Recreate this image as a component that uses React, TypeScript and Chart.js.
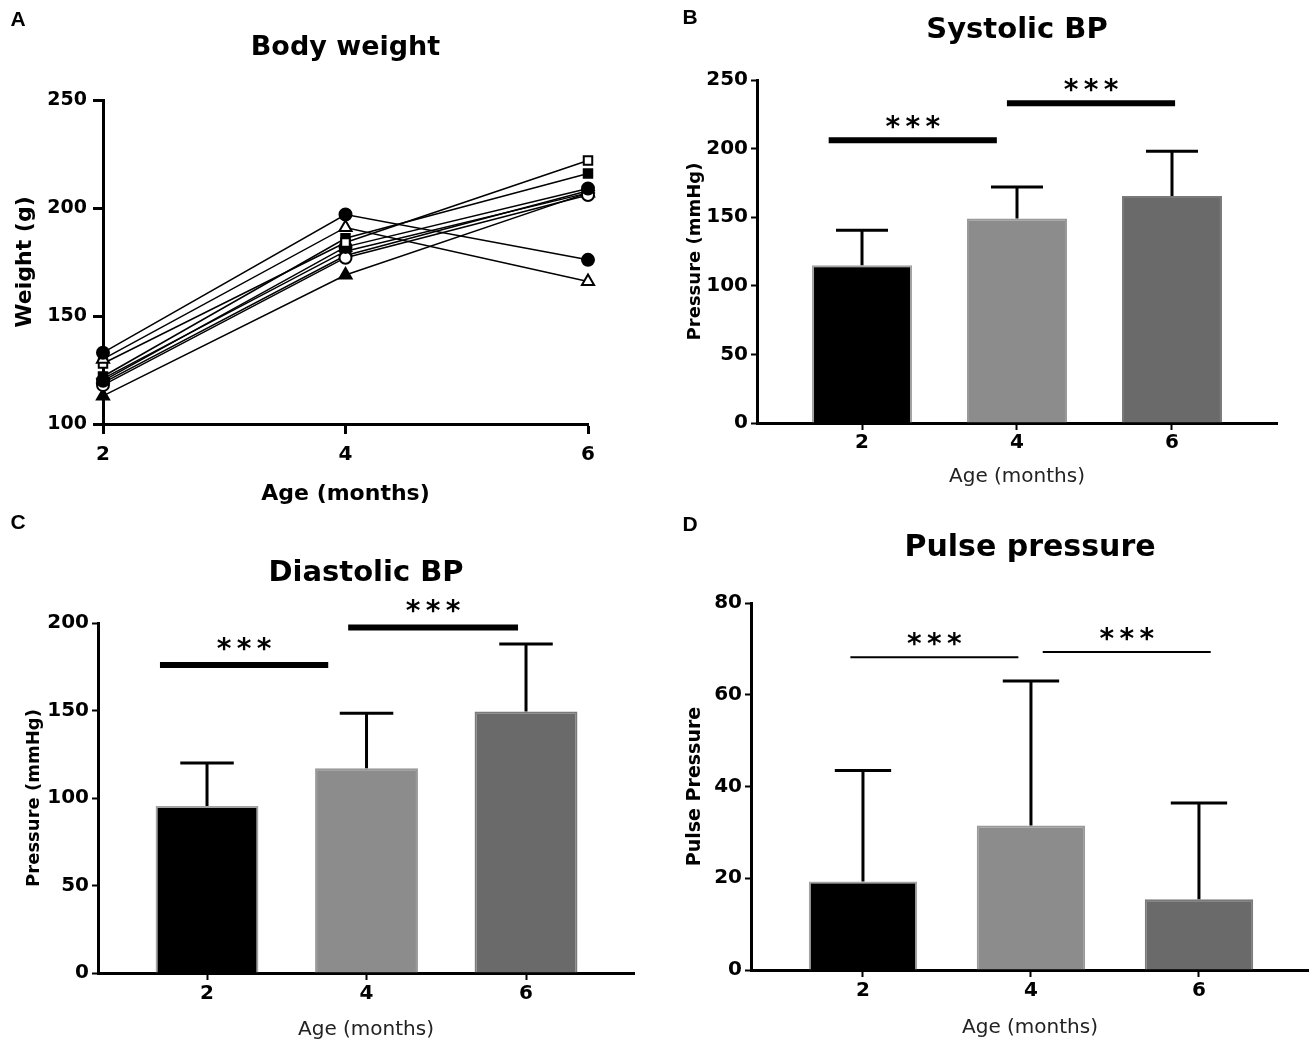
import React, { useEffect, useRef } from "react";
import { Chart, registerables } from "chart.js";

Chart.register(...registerables);

const FONT = "'DejaVu Sans', 'Liberation Sans', Arial, sans-serif";
const LETTER_FONT = "'Liberation Sans', Arial, sans-serif";

// ---------------- Data ----------------
const ageMonths = [2, 4, 6];
const ageTicks = [2, 4, 6];

// Panel A: body weight (g) of individual animals at 2, 4, 6 months
const bwAnimal1 = [133, 197, 176];
const bwAnimal2 = [130, 191, 166];
const bwAnimal3 = [128, 184, 222];
const bwAnimal4 = [122, 186, 216];
const bwAnimal5 = [120, 182, 209];
const bwAnimal6 = [118, 177, 206];
const bwAnimal7 = [121, 180, 207];
const bwAnimal8 = [113, 169, 207];
const bwAnimal9 = [119, 178, 208];
const weightRange = [100, 250];
const weightStep = 50;

// Panel B: systolic BP (mmHg), mean and SD
const systolicMean = [115, 149, 165.5];
const systolicSD = [25.5, 23, 32.5];
const systolicRange = [0, 250];
const systolicStep = 50;
// significance brackets: [from x, to x, level (mmHg)]
const systolicSig = [
  [1.57, 3.74, 206],
  [3.87, 6.04, 233],
];

// Panel C: diastolic BP (mmHg)
const diastolicMean = [95.5, 117, 149.5];
const diastolicSD = [24.5, 31.5, 38.5];
const diastolicRange = [0, 200];
const diastolicStep = 50;
const diastolicSig = [
  [1.41, 3.52, 176],
  [3.77, 5.9, 197.5],
];

// Panel D: pulse pressure
const pulseMean = [19.3, 31.5, 15.4];
const pulseSD = [24.2, 31.5, 21];
const pulseRange = [0, 80];
const pulseStep = 20;
const pulseSig = [
  [1.85, 3.85, 68.2],
  [4.14, 6.14, 69.3],
];

const sigLabel = "*";
const barColors = ["#000000", "#8c8c8c", "#6a6a6a"];
const barBorders = ["#a3a3a3", "#999999", "#7a7a7a"];

// ---------------- Layout helpers ----------------
type Box = { x: number; y: number; w: number; h: number };
type Plot = { l: number; t: number; r: number; b: number };

const font = (size: number, bold = true) => ({
  family: FONT,
  size,
  weight: bold ? ("bold" as const) : ("normal" as const),
  lineHeight: 1.2,
});

function titleOpts(text: string, size: number, centerY: number, box: Box, plot: Plot) {
  const lh = size * 1.2;
  const top = centerY - box.y - lh / 2;
  const bottom = plot.t - box.y - lh - top;
  return {
    display: true,
    text,
    fullSize: false,
    color: "#000",
    font: font(size, true),
    padding: { top, bottom },
  };
}

function letterPlugin(letter: string, x: number, y: number) {
  return {
    id: "panelLetter" + letter,
    afterDraw(chart: any) {
      const ctx = chart.ctx;
      ctx.save();
      ctx.fillStyle = "#000";
      ctx.font = `bold 21px ${LETTER_FONT}`;
      ctx.textAlign = "center";
      ctx.textBaseline = "middle";
      ctx.fillText(letter, x, y);
      ctx.restore();
    },
  };
}

function barExtrasPlugin(
  means: number[],
  sds: number[],
  sig: number[][],
  sigWidth: number,
  starOffset: number
) {
  return {
    id: "barExtras",
    afterDatasetsDraw(chart: any) {
      const ctx = chart.ctx;
      const xs = chart.scales.x;
      const ys = chart.scales.y;
      const meta = chart.getDatasetMeta(0);
      ctx.save();
      ctx.strokeStyle = "#000";
      ctx.lineWidth = 3;
      ctx.lineCap = "butt";
      meta.data.forEach((el: any, i: number) => {
        const x = el.x;
        const base = ys.getPixelForValue(means[i]);
        const top = ys.getPixelForValue(means[i] + sds[i]);
        const hw = el.width * 0.26;
        ctx.beginPath();
        ctx.moveTo(x, base);
        ctx.lineTo(x, top);
        ctx.moveTo(x - hw, top);
        ctx.lineTo(x + hw, top);
        ctx.stroke();
      });
      ctx.lineWidth = sigWidth;
      ctx.fillStyle = "#000";
      ctx.font = `bold 28px ${FONT}`;
      ctx.textAlign = "center";
      ctx.textBaseline = "alphabetic";
      const m = ctx.measureText(sigLabel);
      const half = (m.actualBoundingBoxAscent - m.actualBoundingBoxDescent) / 2;
      sig.forEach(([a, b, v]) => {
        const x1 = xs.getPixelForValue(a);
        const x2 = xs.getPixelForValue(b);
        const y = ys.getPixelForValue(v);
        ctx.beginPath();
        ctx.moveTo(x1, y);
        ctx.lineTo(x2, y);
        ctx.stroke();
        const cx = (x1 + x2) / 2;
        const cy = y - starOffset;
        for (let k = -1; k <= 1; k++) {
          ctx.fillText(sigLabel, cx + k * 20, cy + half);
        }
      });
      ctx.restore();
    },
  };
}

type BarSpec = {
  box: Box;
  plot: Plot;
  letter: string;
  letterPos: [number, number];
  title: string;
  titleSize: number;
  titleY: number;
  yTitle: string;
  yTitleSize: number;
  yTitleX: number;
  range: number[];
  step: number;
  xRange: number[];
  tickSize: number;
  xTickPad: number;
  xTitleY: number;
  means: number[];
  sds: number[];
  sig: number[][];
  sigWidth: number;
  starOffset: number;
};

function makeBarChart(canvas: HTMLCanvasElement, s: BarSpec) {
  const yTitleLH = s.yTitleSize * 1.2;
  const xTitleSize = 20;
  const xTitleLH = xTitleSize * 1.2;
  return new Chart(canvas, {
    type: "bar",
    data: {
      datasets: [
        {
          data: ageMonths.map((m, i) => ({ x: m, y: s.means[i] })) as any,
          backgroundColor: barColors,
          borderColor: barBorders,
          borderWidth: 2,
          barPercentage: 0.645,
          categoryPercentage: 1,
        },
      ],
    },
    options: {
      responsive: false,
      animation: false,
      events: [],
      layout: { padding: { left: 0, top: 0, bottom: 0, right: s.box.x + s.box.w - s.plot.r } },
      plugins: {
        legend: { display: false },
        tooltip: { enabled: false },
        title: titleOpts(s.title, s.titleSize, s.titleY, s.box, s.plot) as any,
      },
      scales: {
        x: {
          type: "linear",
          min: s.xRange[0],
          max: s.xRange[1],
          offset: false,
          afterBuildTicks: (sc: any) => {
            sc.ticks = ageTicks.map((v) => ({ value: v }));
          },
          afterFit: (sc: any) => {
            sc.height = s.box.y + s.box.h - s.plot.b;
          },
          ticks: { color: "#000", font: font(s.tickSize), padding: s.xTickPad, maxRotation: 0, autoSkip: false },
          grid: {
            display: true,
            offset: false,
            drawOnChartArea: false,
            drawTicks: true,
            tickLength: 7,
            tickWidth: 2,
            tickColor: "#000",
          },
          border: { display: true, color: "#000", width: 3 },
          title: {
            display: true,
            text: "Age (months)",
            color: "#222",
            font: font(xTitleSize, false),
            padding: { top: 0, bottom: s.box.y + s.box.h - s.xTitleY - xTitleLH / 2 },
          },
        },
        y: {
          type: "linear",
          min: s.range[0],
          max: s.range[1],
          ticks: { stepSize: s.step, color: "#000", font: font(s.tickSize), padding: 3 },
          afterFit: (sc: any) => {
            sc.width = s.plot.l - s.box.x;
          },
          grid: { display: true, drawOnChartArea: false, drawTicks: true, tickLength: 6, tickWidth: 2, tickColor: "#000" },
          border: { display: true, color: "#000", width: 3 },
          title: {
            display: true,
            text: s.yTitle,
            color: "#000",
            font: font(s.yTitleSize, true),
            padding: { top: s.yTitleX - s.box.x - yTitleLH / 2, bottom: 0 },
          },
        },
      },
    },
    plugins: [
      barExtrasPlugin(s.means, s.sds, s.sig, s.sigWidth, s.starOffset),
      letterPlugin(s.letter, s.letterPos[0], s.letterPos[1]),
    ],
  } as any);
}

const boxA: Box = { x: 0, y: 0, w: 655, h: 505 };
const plotA: Plot = { l: 103, t: 100, r: 588, b: 424 };

const weightSeries = [
  { data: bwAnimal1, style: "circle", open: false },
  { data: bwAnimal2, style: "triangle", open: true },
  { data: bwAnimal3, style: "rect", open: true },
  { data: bwAnimal4, style: "rect", open: false },
  { data: bwAnimal5, style: "circle", open: false },
  { data: bwAnimal6, style: "circle", open: true },
  { data: bwAnimal7, style: "rectRot", open: false },
  { data: bwAnimal8, style: "triangle", open: false },
  { data: bwAnimal9, style: "rectRot", open: true },
];

function makeLineChart(canvas: HTMLCanvasElement) {
  const box = boxA;
  const plot = plotA;
  const yTitleSize = 22;
  const xTitleSize = 22;
  return new Chart(canvas, {
    type: "line",
    data: {
      datasets: weightSeries.map((s) => ({
        data: ageMonths.map((m, i) => ({ x: m, y: s.data[i] })),
        borderColor: "#000",
        borderWidth: 1.5,
        pointStyle: s.style,
        pointRadius: s.style === "triangle" ? 7 : 6,
        pointBackgroundColor: s.open ? "#fff" : "#000",
        pointBorderColor: "#000",
        pointBorderWidth: 2,
        fill: false,
        tension: 0,
        clip: false,
      })),
    },
    options: {
      responsive: false,
      animation: false,
      events: [],
      layout: { padding: { left: 0, top: 0, bottom: 0, right: box.x + box.w - plot.r } },
      plugins: {
        legend: { display: false },
        tooltip: { enabled: false },
        title: titleOpts("Body weight", 27, 48, box, plot) as any,
      },
      scales: {
        x: {
          type: "linear",
          min: ageTicks[0],
          max: ageTicks[ageTicks.length - 1],
          offset: false,
          afterBuildTicks: (sc: any) => {
            sc.ticks = ageTicks.map((v) => ({ value: v }));
          },
          afterFit: (sc: any) => {
            sc.height = box.y + box.h - plot.b;
          },
          ticks: { color: "#000", font: font(20), padding: 9, maxRotation: 0, autoSkip: false },
          grid: {
            display: true,
            offset: false,
            drawOnChartArea: false,
            drawTicks: true,
            tickLength: 10,
            tickWidth: 3,
            tickColor: "#000",
          },
          border: { display: true, color: "#000", width: 3 },
          title: {
            display: true,
            text: "Age (months)",
            color: "#000",
            font: font(xTitleSize, true),
            padding: { top: 0, bottom: box.y + box.h - 494 - (xTitleSize * 1.2) / 2 },
          },
        },
        y: {
          type: "linear",
          min: weightRange[0],
          max: weightRange[1],
          ticks: { stepSize: weightStep, color: "#000", font: font(19), padding: 6 },
          afterFit: (sc: any) => {
            sc.width = plot.l - box.x;
          },
          grid: { display: true, drawOnChartArea: false, drawTicks: true, tickLength: 10, tickWidth: 3, tickColor: "#000" },
          border: { display: true, color: "#000", width: 3 },
          title: {
            display: true,
            text: "Weight (g)",
            color: "#000",
            font: font(yTitleSize, true),
            padding: { top: 25 - (yTitleSize * 1.2) / 2, bottom: 0 },
          },
        },
      },
    },
    plugins: [letterPlugin("A", 18, 20)],
  } as any);
}

const specB: BarSpec = {
  box: { x: 655, y: 0, w: 654, h: 505 },
  plot: { l: 757, t: 80, r: 1277, b: 423 },
  letter: "B",
  letterPos: [35, 18],
  title: "Systolic BP",
  titleSize: 29,
  titleY: 30,
  yTitle: "Pressure (mmHg)",
  yTitleSize: 18,
  yTitleX: 695,
  range: systolicRange,
  step: systolicStep,
  xRange: [0.645, 7.355],
  tickSize: 20,
  xTickPad: 1,
  xTitleY: 477,
  means: systolicMean,
  sds: systolicSD,
  sig: systolicSig,
  sigWidth: 6,
  starOffset: 18,
};

const specC: BarSpec = {
  box: { x: 0, y: 505, w: 655, h: 542 },
  plot: { l: 98, t: 623, r: 634, b: 973 },
  letter: "C",
  letterPos: [18, 18],
  title: "Diastolic BP",
  titleSize: 29,
  titleY: 573,
  yTitle: "Pressure (mmHg)",
  yTitleSize: 18,
  yTitleX: 34,
  range: diastolicRange,
  step: diastolicStep,
  xRange: [0.633, 7.354],
  tickSize: 20,
  xTickPad: 2,
  xTitleY: 1030,
  means: diastolicMean,
  sds: diastolicSD,
  sig: diastolicSig,
  sigWidth: 6,
  starOffset: 21,
};

const specD: BarSpec = {
  box: { x: 655, y: 505, w: 654, h: 542 },
  plot: { l: 751, t: 603, r: 1309, b: 970 },
  letter: "D",
  letterPos: [35, 20],
  title: "Pulse pressure",
  titleSize: 30,
  titleY: 548,
  yTitle: "Pulse Pressure",
  yTitleSize: 19,
  yTitleX: 695,
  range: pulseRange,
  step: pulseStep,
  xRange: [0.667, 7.31],
  tickSize: 20,
  xTickPad: 2,
  xTitleY: 1028,
  means: pulseMean,
  sds: pulseSD,
  sig: pulseSig,
  sigWidth: 2,
  starOffset: 18,
};

function Panel({ box, make }: { box: Box; make: (c: HTMLCanvasElement) => Chart }) {
  const ref = useRef<HTMLCanvasElement>(null);
  useEffect(() => {
    if (!ref.current) return;
    const chart = make(ref.current);
    return () => chart.destroy();
  }, []);
  return (
    <canvas
      ref={ref}
      width={box.w}
      height={box.h}
      style={{ position: "absolute", left: box.x, top: box.y, width: box.w, height: box.h }}
    />
  );
}

export default function App() {
  return (
    <div
      style={{
        position: "absolute",
        left: 0,
        top: 0,
        width: 1309,
        height: 1047,
        background: "#fff",
        overflow: "hidden",
      }}
    >
      <Panel box={boxA} make={makeLineChart} />
      <Panel box={specB.box} make={(c) => makeBarChart(c, specB)} />
      <Panel box={specC.box} make={(c) => makeBarChart(c, specC)} />
      <Panel box={specD.box} make={(c) => makeBarChart(c, specD)} />
    </div>
  );
}
